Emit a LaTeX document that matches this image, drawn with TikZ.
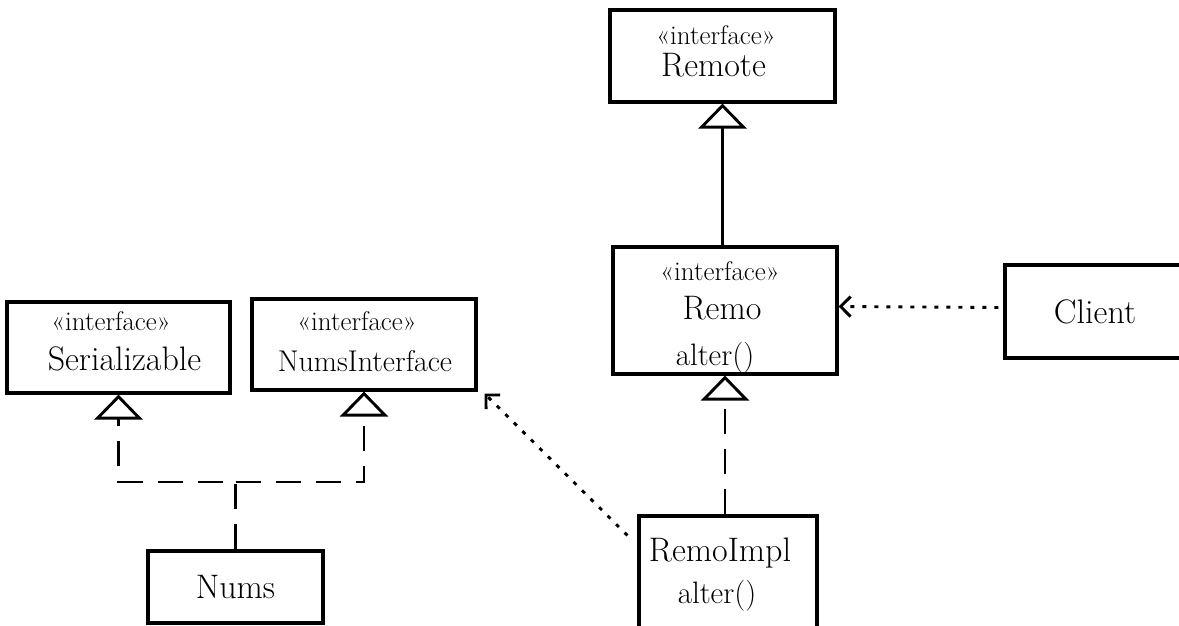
\documentclass[tikz,border=0pt]{standalone}
\usetikzlibrary{positioning, arrows.meta}

\tikzset{
  umlbox/.style={draw, line width=3.1pt, inner sep=0pt, font=\fontsize{34}{38}\selectfont},
  stereo/.style={inner sep=0pt, anchor=base, font=\fontsize{27}{30}\selectfont},
  cname/.style={inner sep=0pt, anchor=base, font=\fontsize{34}{38}\selectfont},
  oper/.style={inner sep=0pt, anchor=base, font=\fontsize{31}{34}\selectfont},
  realize/.style={line width=2.9pt, dash pattern=on 25pt off 15pt, -{Triangle[open, length=25pt, width=48pt]}},
  inherit/.style={line width=2.9pt, -{Triangle[open, length=25pt, width=48pt]}},
  depend/.style={line width=2.9pt, dash pattern=on 4pt off 8pt, -{Straight Barb[length=10pt, width=20pt]}}
}

\begin{document}
\begin{tikzpicture}[x=1pt, y=-1pt]
    \useasboundingbox (0,0) rectangle (1179,626);

    % interfaces on the left
    \node[umlbox, minimum width=223pt, minimum height=91pt] (ser) at (118.5,347.5) {};
    \node[stereo] (serst) at ([shift={(-7.5,30)}]ser.north) {«interface»};
    \node[cname] (sername) at ([shift={(6,70)}]ser.north) {Serializable};
    \node[umlbox, minimum width=224pt, minimum height=91pt] (numsif) at (364,344.5) {};
    \node[stereo] (numsifst) at ([shift={(-7,33)}]numsif.north) {«interface»};
    \node[cname, font=\fontsize{30}{34}\selectfont] (numsifname) at ([shift={(1,74)}]numsif.north) {NumsInterface};
    \node[umlbox, minimum width=175pt, minimum height=72pt] (nums) at (235.5,587) {Nums};

    % remote side
    \node[umlbox, minimum width=225pt, minimum height=92pt] (remote) at (722.5,56) {};
    \node[stereo] (remotest) at ([shift={(-6.5,36)}]remote.north) {«interface»};
    \node[cname] (remotename) at ([shift={(-9,68)}]remote.north) {Remote};
    \node[umlbox, minimum width=224pt, minimum height=127pt] (remo) at (725,310.5) {};
    \node[stereo] (remost) at ([shift={(-5,35)}]remo.north) {«interface»};
    \node[cname] (remoname) at ([shift={(-3,74)}]remo.north) {Remo};
    \node[oper] (remoop) at ([shift={(-10,120)}]remo.north) {alter()};
    \node[umlbox, minimum width=180pt, minimum height=93pt] (client) at (1095,311.5) {Client};
    \node[umlbox, minimum width=178pt, minimum height=140pt] (remoimpl) at (728,586) {};
    \node[cname] (remoimplname) at ([shift={(-8,47)}]remoimpl.north) {RemoImpl};
    \node[oper] (remoimplop) at ([shift={(-11,89)}]remoimpl.north) {alter()};

    % realization of the two interfaces
    \coordinate (join) at (nums.north |- 0,482);
    \draw[realize] (nums.north) -- (join) -| (ser.south);
    \draw[realize] (join) -| (numsif.south);

    % Remote hierarchy
    \draw[inherit] (remote.south |- remo.north) -- (remote.south);
    \draw[realize] (remoimpl.north -| remo.south) -- (remo.south);

    % dependencies
    \draw[depend] ([xshift=-5pt, yshift=4pt]client.west) -- ([yshift=4pt]remo.east);
    \draw[depend] ([xshift=-10pt, yshift=-21pt]remoimpl.north west) -- ([xshift=7pt, yshift=-2pt]numsif.south east);
\end{tikzpicture}
\end{document}
